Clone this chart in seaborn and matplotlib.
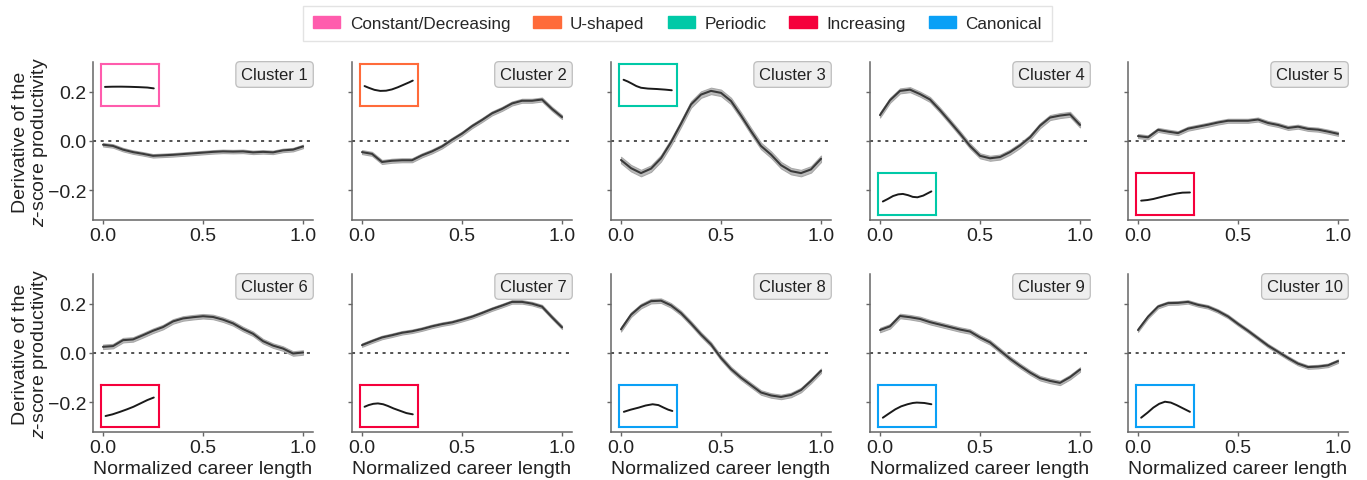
import numpy as np
import pandas as pd
import matplotlib
matplotlib.use("Agg")
import matplotlib.pyplot as plt
from matplotlib.patches import Patch
import seaborn as sns

# ---------------- data ----------------
x_grid = [0.0, 0.05, 0.1, 0.15, 0.2, 0.25, 0.3, 0.35, 0.4, 0.45, 0.5,
          0.55, 0.6, 0.65, 0.7, 0.75, 0.8, 0.85, 0.9, 0.95, 1.0]

cluster_1 = [-0.015, -0.02, -0.035, -0.045, -0.052, -0.06, -0.058, -0.056, -0.053, -0.05, -0.047,
             -0.044, -0.042, -0.043, -0.042, -0.046, -0.044, -0.046, -0.038, -0.035, -0.022]
cluster_2 = [-0.045, -0.052, -0.085, -0.08, -0.078, -0.078, -0.058, -0.042, -0.022, 0.005, 0.03,
             0.06, 0.085, 0.112, 0.13, 0.152, 0.163, 0.163, 0.168, 0.13, 0.097]
cluster_3 = [-0.077, -0.11, -0.13, -0.112, -0.07, -0.005, 0.07, 0.148, 0.188, 0.203, 0.195,
             0.162, 0.103, 0.04, -0.02, -0.055, -0.098, -0.122, -0.13, -0.115, -0.072]
cluster_4 = [0.105, 0.165, 0.203, 0.208, 0.19, 0.168, 0.125, 0.078, 0.03, -0.02, -0.06,
             -0.07, -0.065, -0.045, -0.018, 0.015, 0.062, 0.095, 0.103, 0.108, 0.065]
cluster_5 = [0.02, 0.015, 0.045, 0.038, 0.032, 0.05, 0.058, 0.066, 0.075, 0.082, 0.082,
             0.082, 0.087, 0.073, 0.065, 0.053, 0.058, 0.049, 0.046, 0.038, 0.029]
cluster_6 = [0.025, 0.028, 0.052, 0.055, 0.072, 0.09, 0.105, 0.128, 0.14, 0.145, 0.149,
             0.146, 0.135, 0.12, 0.097, 0.078, 0.048, 0.03, 0.018, -0.002, 0.002]
cluster_7 = [0.032, 0.048, 0.063, 0.072, 0.082, 0.088, 0.097, 0.108, 0.117, 0.124, 0.135,
             0.147, 0.162, 0.178, 0.192, 0.207, 0.207, 0.2, 0.188, 0.145, 0.104]
cluster_8 = [0.096, 0.155, 0.19, 0.21, 0.212, 0.193, 0.162, 0.12, 0.075, 0.035, -0.02,
             -0.065, -0.1, -0.13, -0.16, -0.172, -0.178, -0.17, -0.15, -0.113, -0.072]
cluster_9 = [0.093, 0.108, 0.15, 0.145, 0.138, 0.125, 0.115, 0.105, 0.095, 0.087, 0.063,
             0.043, 0.01, -0.023, -0.052, -0.079, -0.102, -0.113, -0.121, -0.098, -0.067]
cluster_10 = [0.093, 0.147, 0.188, 0.202, 0.203, 0.207, 0.195, 0.187, 0.17, 0.148, 0.118,
              0.09, 0.06, 0.03, 0.005, -0.02, -0.043, -0.057, -0.055, -0.05, -0.033]

series = [cluster_1, cluster_2, cluster_3, cluster_4, cluster_5,
          cluster_6, cluster_7, cluster_8, cluster_9, cluster_10]
ci_half = [0.007, 0.008, 0.013, 0.01, 0.008, 0.009, 0.007, 0.009, 0.009, 0.007]

cluster_names = [f"Cluster {i}" for i in range(1, 11)]
cluster_types = ["Constant/Decreasing", "U-shaped", "Periodic", "Periodic", "Increasing",
                 "Increasing", "Increasing", "Canonical", "Canonical", "Canonical"]
type_names = ["Constant/Decreasing", "U-shaped", "Periodic", "Increasing", "Canonical"]
type_colors = ["#FF5CAD", "#FF6B3A", "#00C9A7", "#F5003C", "#0AA0F6"]

# inset (cumulative shape) curves, in inset-relative units
inset_x = [
    [0.07, 0.2, 0.35, 0.5, 0.65, 0.8, 0.91],
    [0.08, 0.15, 0.25, 0.35, 0.45, 0.55, 0.65, 0.75, 0.85, 0.91],
    [0.08, 0.15, 0.22, 0.3, 0.38, 0.5, 0.65, 0.8, 0.91],
    [0.085, 0.17, 0.26, 0.35, 0.43, 0.52, 0.6, 0.68, 0.78, 0.92],
    [0.09, 0.2, 0.3, 0.4, 0.5, 0.6, 0.7, 0.8, 0.93],
    [0.08, 0.2, 0.33, 0.45, 0.56, 0.68, 0.8, 0.91],
    [0.08, 0.15, 0.23, 0.31, 0.4, 0.48, 0.58, 0.68, 0.8, 0.91],
    [0.085, 0.2, 0.34, 0.46, 0.58, 0.68, 0.77, 0.85, 0.92],
    [0.085, 0.18, 0.3, 0.4, 0.51, 0.6, 0.67, 0.8, 0.92],
    [0.09, 0.2, 0.3, 0.4, 0.5, 0.6, 0.7, 0.8, 0.93],
]
inset_y = [
    [0.46, 0.465, 0.466, 0.462, 0.455, 0.445, 0.425],
    [0.48, 0.44, 0.39, 0.365, 0.37, 0.40, 0.45, 0.51, 0.57, 0.61],
    [0.63, 0.59, 0.54, 0.48, 0.44, 0.42, 0.41, 0.395, 0.38],
    [0.32, 0.38, 0.45, 0.49, 0.50, 0.47, 0.43, 0.42, 0.46, 0.56],
    [0.34, 0.355, 0.38, 0.415, 0.45, 0.48, 0.51, 0.53, 0.535],
    [0.26, 0.30, 0.36, 0.42, 0.48, 0.56, 0.64, 0.70],
    [0.48, 0.52, 0.55, 0.56, 0.54, 0.50, 0.44, 0.39, 0.33, 0.30],
    [0.36, 0.41, 0.46, 0.51, 0.54, 0.52, 0.46, 0.41, 0.38],
    [0.22, 0.31, 0.42, 0.49, 0.54, 0.57, 0.58, 0.57, 0.54],
    [0.22, 0.34, 0.46, 0.55, 0.60, 0.58, 0.52, 0.45, 0.36],
]
inset_on_top = [True, True, True, False, False, False, False, False, False, False]

x_ticks = [0.0, 0.5, 1.0]
y_ticks = [-0.2, 0.0, 0.2]

# ---------------- style ----------------
sns.set_style("ticks")
plt.rcParams["font.family"] = ["Liberation Sans", "DejaVu Sans"]
plt.rcParams["mathtext.fontset"] = "custom"
plt.rcParams["mathtext.it"] = "Liberation Sans:italic"
plt.rcParams["mathtext.rm"] = "Liberation Sans"

fig = plt.figure(figsize=(13.67, 4.81), dpi=100)

W, H = 1367.0, 481.0
col_left = [93, 352, 611, 870, 1128]
row_top = [63, 275]
ax_w, ax_h = 220, 158

spine_col = "#666666"

for i in range(10):
    r, c = divmod(i, 5)
    left = col_left[c] / W
    bottom = 1 - (row_top[r] + ax_h) / H
    ax = fig.add_axes([left, bottom, ax_w / W, ax_h / H])

    df = pd.DataFrame({"x": x_grid, "y": series[i]})
    lo = np.array(series[i]) - ci_half[i]
    hi = np.array(series[i]) + ci_half[i]
    ax.fill_between(x_grid, lo, hi, color="#BBBBBB", lw=0.8, edgecolor="#A8A8A8", zorder=2)
    sns.lineplot(data=df, x="x", y="y", ax=ax, color="#3A3A3A", lw=1.5, zorder=3)
    ax.axhline(0, color="#222222", lw=1.1, ls=(0, (2, 3)), zorder=1)

    ax.set_xlim(-0.05, 1.05)
    ax.set_ylim(-0.32, 0.32)
    ax.set_xticks(x_ticks)
    ax.set_yticks(y_ticks)
    sns.despine(ax=ax)
    for s in ["left", "bottom"]:
        ax.spines[s].set_color(spine_col)
        ax.spines[s].set_linewidth(1.1)
    ax.tick_params(axis="both", labelsize=14, colors=spine_col, labelcolor="#222222",
                   length=3, width=1, pad=2)
    ax.set_xticklabels(["0.0", "0.5", "1.0"])
    if c == 0:
        ax.set_yticklabels(["\u22120.2", "0.0", "0.2"])
        ax.set_ylabel("Derivative of the\n$z$-score productivity", fontsize=14,
                      color="#222222", linespacing=0.95)
        ax.yaxis.set_label_coords(-0.197, 0.5)
    else:
        ax.set_yticklabels([])
        ax.set_ylabel("")
    if r == 1:
        ax.set_xlabel("Normalized career length", fontsize=14, color="#222222", labelpad=3)
    else:
        ax.set_xlabel("")

    ax.text(0.977, 0.921, cluster_names[i], transform=ax.transAxes, ha="right", va="center",
            fontsize=12, color="#222222", zorder=5,
            bbox=dict(boxstyle="round,pad=0.32,rounding_size=0.25", fc="#EEEEEE",
                      ec="#BDBDBD", lw=0.9))

    col = type_colors[type_names.index(cluster_types[i])]
    ib = 0.72 if inset_on_top[i] else 0.032
    iax = ax.inset_axes([0.036, ib, 0.264, 0.266])
    iax.plot(inset_x[i], inset_y[i], color="#1A1A1A", lw=1.4, solid_capstyle="round")
    iax.set_xlim(0, 1)
    iax.set_ylim(0, 1)
    iax.set_xticks([])
    iax.set_yticks([])
    iax.set_facecolor("white")
    for s in iax.spines.values():
        s.set_visible(True)
        s.set_color(col)
        s.set_linewidth(1.5)

handles = [Patch(facecolor=c, edgecolor=c, label=n) for n, c in zip(type_names, type_colors)]
leg = fig.legend(handles=handles, loc="center", bbox_to_anchor=(0.4956, 0.949), ncol=5,
                 fontsize=12.3, frameon=True, fancybox=False, edgecolor="#DDDDDD",
                 handlelength=1.6, handleheight=0.7, handletextpad=0.55, columnspacing=1.35,
                 borderpad=0.6)
leg.get_frame().set_linewidth(1.0)

fig.savefig("out.png", dpi=100)
